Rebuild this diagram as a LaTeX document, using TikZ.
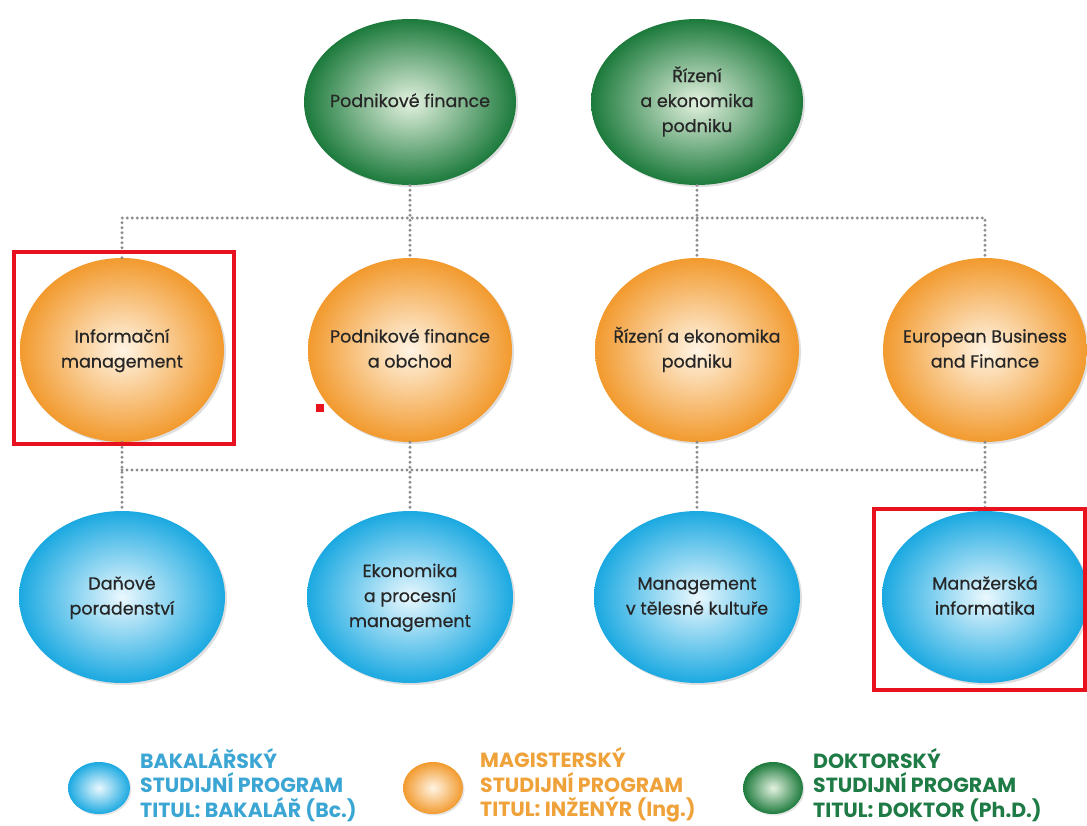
\documentclass[tikz,border=0pt]{standalone}
\usepackage{fontspec}
\setmainfont{Poppins}
\newfontfamily\bubfont{Poppins}[FakeBold=0.6]
\usetikzlibrary{shapes.geometric,shadows}
\definecolor{gOut}{HTML}{1C7A3C}
\definecolor{gIn}{HTML}{E4F2E0}
\definecolor{oOut}{HTML}{F29A2E}
\definecolor{oIn}{HTML}{FFF4E4}
\definecolor{bOut}{HTML}{1BA9E1}
\definecolor{bIn}{HTML}{EAF8FE}
\definecolor{legB}{HTML}{3BA6D4}
\definecolor{legO}{HTML}{F0A23A}
\definecolor{legG}{HTML}{1E7B45}
\definecolor{annRed}{HTML}{E8121E}
\newcommand\ztext[1]{\makebox[0pt][c]{\begin{tabular}{@{}c@{}}#1\end{tabular}}}
\tikzset{
  bubble/.style={ellipse, inner sep=0pt, align=center,
    font=\bubfont\fontsize{17.5}{25}\selectfont, text=black!85,
    drop shadow={opacity=0.25, shadow xshift=2pt, shadow yshift=-2pt}},
  gbub/.style={bubble, inner color=gIn, outer color=gOut, minimum width=212pt, minimum height=166pt},
  obub/.style={bubble, inner color=oIn, outer color=oOut, minimum width=204pt, minimum height=184pt},
  bbub/.style={bubble, inner color=bIn, outer color=bOut, minimum width=206pt, minimum height=172pt},
  legdot/.style={ellipse, inner sep=0pt, minimum width=60pt, minimum height=52pt,
    drop shadow={opacity=0.2, shadow xshift=1.5pt, shadow yshift=-1.5pt}},
  legtext/.style={anchor=west, align=left, inner sep=0pt, font=\bfseries\fontsize{20.5}{24.5}\selectfont},
  dotline/.style={draw=black!45, line width=3.2pt, dash pattern=on 0pt off 5pt, line cap=round},
  annbox/.style={draw=annRed, line width=4pt}
}
\begin{document}
\begin{tikzpicture}[x=1pt,y=-1pt]
\useasboundingbox (0,0) rectangle (1087,825);
\fill[white] (0,0) rectangle (1087,825);
% bus coordinates
\coordinate (busA) at (0,218);
\coordinate (busB) at (0,470);
% top (doctoral)
\node[gbub] (g1) at (410,102) {\ztext{Podnikové finance}};
\node[gbub] (g2) at (697,102) {\ztext{Řízení\\a ekonomika\\podniku}};
% middle (master)
\node[obub] (o1) at (122,350) {\ztext{Informační\\management}};
\node[obub] (o2) at (410,350) {\ztext{Podnikové finance\\a obchod}};
\node[obub] (o3) at (697,350) {\ztext{Řízení a ekonomika\\podniku}};
\node[obub] (o4) at (985,350) {\ztext{European Business\\and Finance}};
% bottom (bachelor)
\node[bbub] (b1) at (122,597) {\ztext{Daňové\\poradenství}};
\node[bbub] (b2) at (410,597) {\ztext{Ekonomika\\a procesní\\management}};
\node[bbub] (b3) at (697,597) {\ztext{Management\\v tělesné kultuře}};
\node[bbub] (b4) at (985,597) {\ztext{Manažerská\\informatika}};
% connectors
\draw[dotline] (o1.north) -- (o1.north |- busA) -- (o4.north |- busA) -- (o4.north);
\draw[dotline] (g1.south) -- (o2.north);
\draw[dotline] (g2.south) -- (o3.north);
\draw[dotline] (o1.south |- busB) -- (o4.south |- busB);
\draw[dotline] (o1.south) -- (b1.north);
\draw[dotline] (o2.south) -- (b2.north);
\draw[dotline] (o3.south) -- (b3.north);
\draw[dotline] (o4.south) -- (b4.north);
% legend
\node[legdot, inner color=bIn, outer color=bOut, minimum width=62pt] (lb) at (99,788) {};
\node[legtext, text=legB] (lbt) at (140,785) {BAKALÁŘSKÝ\\STUDIJNÍ PROGRAM\\TITUL: BAKALÁŘ (Bc.)};
\node[legdot, inner color=oIn, outer color=oOut] (lo) at (433,788) {};
\node[legtext, text=legO] (lot) at (480,785) {MAGISTERSKÝ\\STUDIJNÍ PROGRAM\\TITUL: INŽENÝR (Ing.)};
\node[legdot, inner color=gIn, outer color=gOut] (lg) at (773,788) {};
\node[legtext, text=legG] (lgt) at (813,785) {DOKTORSKÝ\\STUDIJNÍ PROGRAM\\TITUL: DOKTOR (Ph.D.)};
% annotations
\draw[annbox] (14,252) rectangle (234,444);
\draw[annbox] (874,509) rectangle (1085,690);
\fill[annRed] (316,404) rectangle (324,412);
\end{tikzpicture}
\end{document}
